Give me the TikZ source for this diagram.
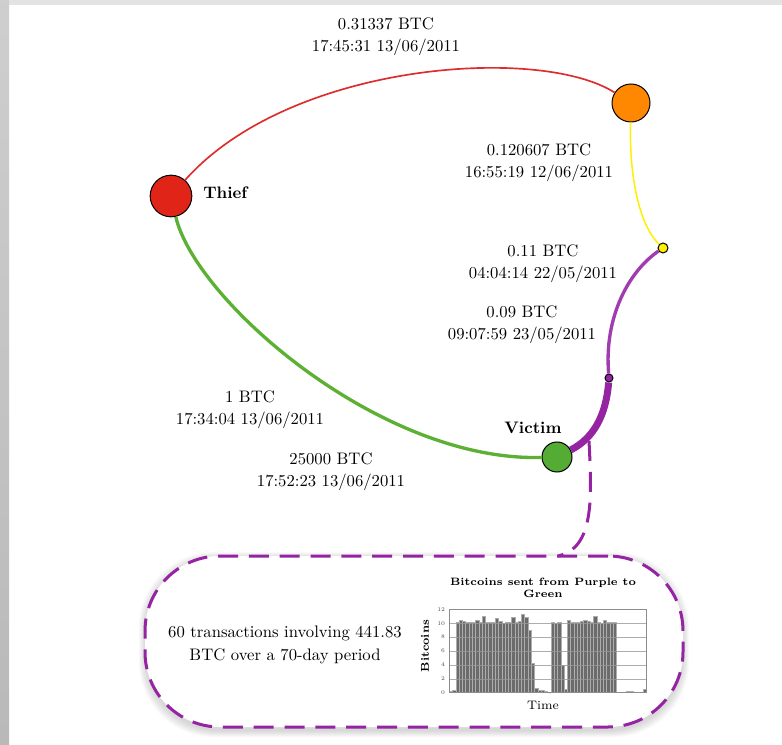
\documentclass[tikz,border=0pt]{standalone}
\definecolor{cred}{RGB}{224,36,24}
\definecolor{credge}{RGB}{222,44,44}
\definecolor{corange}{RGB}{255,136,0}
\definecolor{cyellow}{RGB}{255,240,0}
\definecolor{cgreen}{RGB}{84,172,52}
\definecolor{cgreenedge}{RGB}{92,176,52}
\definecolor{cpurple}{RGB}{148,36,162}
\definecolor{cpurplemid}{RGB}{160,60,176}
\tikzset{
  vtx/.style={circle, draw=black, line width=0.6pt, inner sep=0pt},
  lbl/.style={align=center, font=\fontsize{10}{13.2}\selectfont, inner sep=0pt},
  callout/.style={draw=cpurple, line width=1.8pt, dash pattern=on 12pt off 6.5pt},
}
\begin{document}
\begin{tikzpicture}[x=0.6pt,y=-0.6pt]
\useasboundingbox (0,0) rectangle (782,745);
% page frame
\fill[gray!22] (0,0) rectangle (782,5);
\shade[top color=gray!38, bottom color=gray!55] (0,0) rectangle (9,745);

% vertices
\node[vtx, fill=cred, minimum size=25pt] (thief) at (171,196) {};
\node[vtx, fill=corange, minimum size=22.8pt] (orange) at (631,103) {};
\node[vtx, fill=cyellow, minimum size=6pt] (yellow) at (663,248) {};
\node[vtx, fill=cpurple, minimum size=4.8pt] (purple) at (609,378) {};
\node[vtx, fill=cgreen, minimum size=18pt] (victim) at (557,457) {};

\node[anchor=west, font=\bfseries, inner sep=0pt] (thieflbl) at (203,193) {Thief};
\node[font=\bfseries, inner sep=0pt] (victimlbl) at (533,428) {Victim};

% edge labels
\node[lbl] (l1) at (386,37) {0.31337 BTC\\17:45:31 13/06/2011};
\node[lbl] (l2) at (539,163) {0.120607 BTC\\16:55:19 12/06/2011};
\node[lbl] (l3) at (543,264) {0.11 BTC\\04:04:14 22/05/2011};
\node[lbl] (l4) at (522,325) {0.09 BTC\\09:07:59 23/05/2011};
\node[lbl] (l5) at (250,410) {1 BTC\\17:34:04 13/06/2011};
\node[lbl] (l6) at (331,472) {25000 BTC\\17:52:23 13/06/2011};

% edges
\draw[credge, line width=1pt] (thief) .. controls (290,62) and (540,45) .. (orange);
\draw[cyellow, line width=0.9pt] (orange) .. controls (629,185) and (642,228) .. (yellow);
\draw[cpurplemid, line width=2pt] (yellow) .. controls (628,272) and (604,318) .. (purple);
\draw[cpurple, line width=4.2pt] (purple) .. controls (606,415) and (594,438) .. (victim);
\draw[cgreenedge, line width=2pt] (thief) .. controls (195,300) and (380,462) .. (victim);

% soft shadow of the callout box
\foreach \k in {0,...,6}
  {\fill[black, opacity=0.025, rounded corners=45pt] (145-\k,558-\k) rectangle (683+\k,731+\k);}
% callout box
\node[callout, fill=white, rounded corners=45pt, minimum width=322.8pt, minimum height=102.6pt] (box) at (414,641.5) {};
\coordinate (calltop) at (589,441);
\coordinate (boxjoin) at (558,556);
\draw[callout] (calltop) .. controls (592,500) and (594,548) .. (boxjoin);

\node[lbl, font=\fontsize{10}{13.8}\selectfont] (boxtext) at (285,645) {60 transactions involving 441.83\\BTC over a 70-day period};

% chart
\node[align=center, inner sep=0pt, font=\fontsize{6.4}{7}\selectfont\bfseries] (ctitle) at (543,588) {Bitcoins sent from Purple to\\Green};
\node[rotate=90, inner sep=0pt, font=\fontsize{6.8}{7}\selectfont\bfseries] (ylab) at (425,646) {Bitcoins};
\node[inner sep=0pt, font=\fontsize{7.4}{8}\selectfont] (xlab) at (543,705) {Time};
\begin{scope}[shift={(449.3,692.7)}, yscale=-6.95]
  \fill[white] (0,0) rectangle (196.7,12);
  \foreach \h [count=\i from 0] in {0.2,0.3,
      10.2,10.5,10.3,10.2,10.2,10.1,10.5,10.2,11.0,10.1,10.1,10.2,10.7,10.3,10.0,10.1,10.2,10.8,10.2,10.3,11.3,10.8,
      9.0,4.2,0.6,0.4,0.35,0.2,0,
      10.1,10.0,10.2,3.9,0.5,
      10.4,10.2,10.2,10.1,10.3,10.5,10.3,10.2,11.0,10.2,10.0,10.5,10.2,10.1,10.2,
      0.1,0.1,0.1,0.15,0.15,0.1,0.1,0.1,0.5}
    {\filldraw[fill=black!58, draw=black!32, line width=0.25pt] (\i*3.278,0) rectangle (\i*3.278+3.278,\h);}
  \foreach \v in {2,4,...,10}
    {\draw[black!40, line width=0.35pt, opacity=0.8] (0,\v) -- (196.7,\v);}
  \draw[black!45, line width=0.4pt] (0,0) rectangle (196.7,12);
  \foreach \v in {0,2,...,12}
    {\node[anchor=east, inner sep=0pt, font=\fontsize{3.4}{4}\selectfont, text=black!70] (tick\v) at (-4,\v) {\v};}
\end{scope}
\end{tikzpicture}
\end{document}
